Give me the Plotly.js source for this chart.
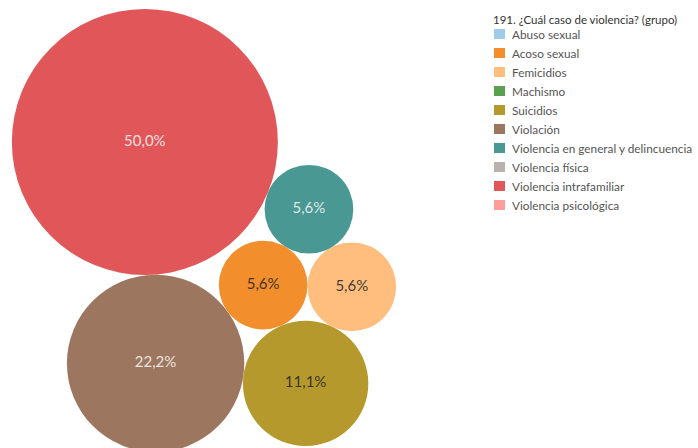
<!DOCTYPE html>
<html>
<head>
<meta charset="utf-8">
<script src="https://cdn.plot.ly/plotly-3.0.1.min.js"></script>
<style>html,body{margin:0;padding:0;background:#fff;}#chart{width:698px;height:448px;}</style>
</head>
<body>
<div id="chart"></div>
<script>
// ---- Data ----
const legendTitle = "191. ¿Cuál caso de violencia? (grupo)";
const categories = ["Abuso sexual","Acoso sexual","Femicidios","Machismo","Suicidios","Violación","Violencia en general y delincuencia","Violencia física","Violencia intrafamiliar","Violencia psicológica"];
const counts = [0,1,1,0,2,4,1,0,9,0];
const palette = ["#A0CBE8","#F28E2B","#FFBE7D","#59A14F","#B6992D","#9D7660","#499894","#BAB0AC","#E15759","#FF9D9A"];
const darkText = [false,true,true,false,true,false,false,false,false,false];

// ---- Layout helpers (packing) ----
const W = 698, H = 448;
const FONT = "Lato, 'Open Sans', sans-serif";
const total = counts.reduce((a,b)=>a+b,0);
const maxCount = Math.max(...counts);
const rMax = 133;
const radius = v => rMax*Math.sqrt(v/maxCount);

const items = categories.map((c,i)=>({i, c, v:counts[i], r:radius(counts[i])}))
  .filter(d=>d.v>0)
  .sort((a,b)=> b.v-a.v || a.i-b.i);

function tangent(P, Q, r, away) {
  const dx=Q.x-P.x, dy=Q.y-P.y, d=Math.hypot(dx,dy);
  const dp=P.r+r, dq=Q.r+r;
  const a=(dp*dp-dq*dq+d*d)/(2*d);
  const h=Math.sqrt(Math.max(0,dp*dp-a*a));
  const ux=dx/d, uy=dy/d;
  let nx=-uy, ny=ux;
  if (away) {
    if ((away.x-P.x)*nx+(away.y-P.y)*ny > 0) { nx=-nx; ny=-ny; }
  } else if (ny>0) { nx=-nx; ny=-ny; }
  return {x:P.x+a*ux+h*nx, y:P.y+a*uy+h*ny};
}
const [F, A, B, C, D, E] = items;
A.x=0; A.y=0;
const th = 7.6*Math.PI/180;
B.x=(A.r+B.r)*Math.cos(th); B.y=(A.r+B.r)*Math.sin(th);
Object.assign(C, tangent(A,B,C.r,null));
Object.assign(D, tangent(B,C,D.r,A));
Object.assign(E, tangent(C,D,E.r,B));
Object.assign(F, tangent(E,A,F.r,C));
const minX=Math.min(...items.map(d=>d.x-d.r)), maxX=Math.max(...items.map(d=>d.x+d.r));
const minY=Math.min(...items.map(d=>d.y-d.r)), maxY=Math.max(...items.map(d=>d.y+d.r));
const cx=204, cy=230.5;
const ox=cx-(minX+maxX)/2, oy=cy-(minY+maxY)/2;

const fmt = v => (v/total*100).toFixed(1).replace(".",",")+"%";

const trace = {
  type:"scatter", mode:"markers+text",
  x: items.map(d=>d.x+ox), y: items.map(d=>d.y+oy),
  text: items.map(d=>fmt(d.v)),
  textposition:"middle center",
  textfont:{family:FONT, size:15, color: items.map(d=> darkText[d.i] ? "rgba(40,40,40,0.9)" : "rgba(255,255,255,0.82)")},
  marker:{size: items.map(d=>2*d.r), sizemode:"diameter", color: items.map(d=>palette[d.i]), line:{width:0}, opacity:1},
  hoverinfo:"skip", showlegend:false, cliponaxis:true
};

const shapes=[], annotations=[];
annotations.push({x:491, y:19, xref:"x", yref:"y", text:legendTitle, showarrow:false, xanchor:"left", yanchor:"middle", font:{family:FONT, size:11.5, color:"#333"}});
categories.forEach((c,i)=>{
  const yc = 34+19*i;
  shapes.push({type:"rect", xref:"x", yref:"y", x0:494, x1:505, y0:yc-5, y1:yc+5, fillcolor:palette[i], line:{width:0}});
  annotations.push({x:510, y:yc, xref:"x", yref:"y", text:c, showarrow:false, xanchor:"left", yanchor:"middle", font:{family:FONT, size:11.8, color:"#555"}});
});

const layout = {
  width:W, height:H, margin:{l:0,r:0,t:0,b:0},
  paper_bgcolor:"#fff", plot_bgcolor:"#fff",
  xaxis:{range:[0,W], visible:false, fixedrange:true},
  yaxis:{range:[H,0], visible:false, fixedrange:true},
  showlegend:false, shapes, annotations
};
Plotly.newPlot("chart",[trace],layout,{displayModeBar:false, staticPlot:true});
</script>
</body>
</html>
